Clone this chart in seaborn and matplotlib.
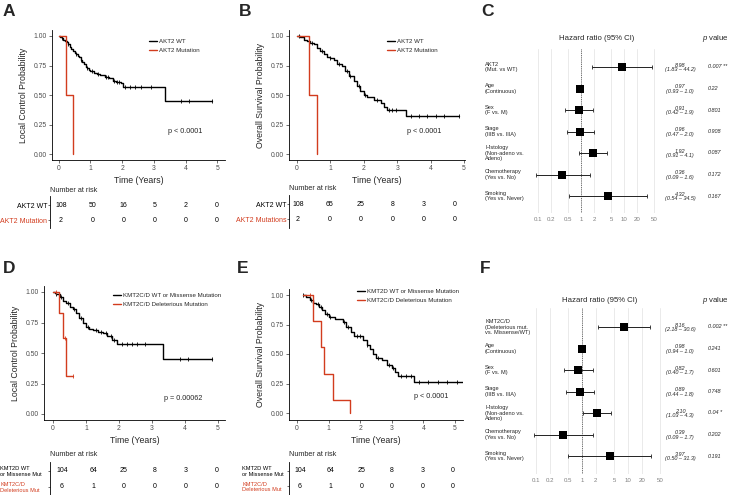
import numpy as np
import pandas as pd
import matplotlib
matplotlib.use("Agg")
import matplotlib.pyplot as plt
import matplotlib.transforms as mtransforms
from matplotlib.lines import Line2D
import seaborn as sns

sns.set_style("white")
plt.rcParams['font.family'] = ['Liberation Sans', 'DejaVu Sans']
plt.rcParams['mathtext.fontset'] = 'custom'
plt.rcParams['mathtext.rm'] = 'Liberation Sans'
plt.rcParams['mathtext.it'] = 'Liberation Sans:italic'

RED = "#D23C1E"
W, H = 731, 495

# ---------------- data ----------------
years = [0, 1, 2, 3, 4, 5]
prob_ticks = [0.0, 0.25, 0.5, 0.75, 1.0]

# A: local control, AKT2
a_wt_t = [0, 0.05, 0.1, 0.15, 0.2, 0.25, 0.3, 0.35, 0.4, 0.45, 0.5, 0.55, 0.6, 0.65, 0.7, 0.75,
          0.8, 0.85, 0.9, 0.95, 1.0, 1.1, 1.2, 1.3, 1.45, 1.6, 1.7, 1.8, 1.95, 2.02, 3.35]
a_wt_s = [1.0, 0.99, 0.98, 0.97, 0.96, 0.95, 0.93, 0.91, 0.89, 0.87, 0.86, 0.85, 0.83, 0.82, 0.80, 0.78,
          0.76, 0.74, 0.73, 0.71, 0.70, 0.69, 0.68, 0.67, 0.65, 0.64, 0.62, 0.61, 0.60, 0.57, 0.45]
a_wt_end = 4.85
a_wt_cens = [0.1, 0.3, 0.55, 0.7, 0.9, 1.05, 1.25, 1.5, 1.55, 1.75, 1.85, 1.9, 2.1, 2.25, 2.4,
             2.6, 2.9, 3.85, 4.1, 4.85]
a_mut_t = [0, 0.23, 0.45]
a_mut_s = [1.0, 0.5, 0.0]
a_mut_end = 0.45
a_mut_cens = []
a_risk_wt = [108, 50, 16, 5, 2, 0]
a_risk_mut = [2, 0, 0, 0, 0, 0]

# B: overall survival, AKT2
b_wt_t = [0, 0.1, 0.2, 0.3, 0.4, 0.5, 0.6, 0.7, 0.8, 0.9, 1.0, 1.1, 1.2, 1.35, 1.45, 1.55, 1.7,
          1.8, 1.9, 2.0, 2.1, 2.3, 2.5, 2.6, 2.7, 3.25]
b_wt_s = [1.0, 0.99, 0.97, 0.96, 0.94, 0.93, 0.90, 0.87, 0.85, 0.82, 0.81, 0.80, 0.76, 0.75, 0.70,
          0.66, 0.62, 0.58, 0.53, 0.50, 0.48, 0.46, 0.43, 0.40, 0.37, 0.32]
b_wt_end = 4.85
b_wt_cens = [0.05, 0.35, 0.45, 0.75, 1.0, 1.25, 1.5, 1.6, 1.85, 2.05, 2.4, 2.75, 2.85, 2.95,
             3.4, 3.65, 3.9, 4.15, 4.4, 4.85]
b_mut_t = [0, 0.37, 0.61]
b_mut_s = [1.0, 0.5, 0.0]
b_mut_end = 0.61
b_mut_cens = []
b_risk_wt = [108, 65, 25, 8, 3, 0]
b_risk_mut = [2, 0, 0, 0, 0, 0]

# D: local control, KMT2C/D
d_wt_t = [0, 0.05, 0.1, 0.2, 0.3, 0.4, 0.5, 0.6, 0.7, 0.8, 0.9, 1.0, 1.1, 1.2, 1.35, 1.5, 1.65,
          1.8, 1.95, 3.33]
d_wt_s = [1.0, 0.99, 0.98, 0.96, 0.93, 0.91, 0.88, 0.86, 0.83, 0.79, 0.75, 0.71, 0.70, 0.69, 0.67,
          0.66, 0.64, 0.61, 0.57, 0.45]
d_wt_end = 4.83
d_wt_cens = [0.1, 0.25, 0.45, 0.65, 0.85, 1.05, 1.3, 1.45, 1.6, 1.75, 1.85, 2.1, 2.25, 2.4,
             2.55, 2.8, 3.85, 4.1, 4.83]
d_mut_t = [0, 0.18, 0.31, 0.38]
d_mut_s = [1.0, 0.83, 0.62, 0.31]
d_mut_end = 0.6
d_mut_cens = [0.08, 0.35, 0.6]
d_risk_wt = [104, 64, 25, 8, 3, 0]
d_risk_mut = [6, 1, 0, 0, 0, 0]

# E: overall survival, KMT2C/D
e_wt_t = [0.18, 0.3, 0.4, 0.5, 0.6, 0.7, 0.8, 0.9, 1.0, 1.2, 1.45, 1.55, 1.7, 1.8, 2.1, 2.2,
          2.3, 2.4, 2.5, 2.7, 2.85, 3.0, 3.1, 3.2, 3.7]
e_wt_s = [1.0, 0.98, 0.96, 0.93, 0.92, 0.90, 0.87, 0.84, 0.81, 0.80, 0.77, 0.73, 0.69, 0.65,
          0.62, 0.58, 0.54, 0.50, 0.47, 0.45, 0.41, 0.38, 0.35, 0.31, 0.26]
e_wt_end = 5.25
e_wt_cens = [0.2, 0.45, 0.65, 0.75, 0.95, 1.05, 1.5, 1.6, 1.9, 2.0, 2.2, 2.55, 2.9, 3.05,
             3.3, 3.45, 3.6, 3.85, 4.15, 4.45, 4.75, 5.05]
e_mut_t = [0.18, 0.5, 0.76, 0.84, 1.13, 1.68]
e_mut_s = [1.0, 0.78, 0.56, 0.33, 0.11, 0.0]
e_mut_end = 1.68
e_mut_cens = [0.42]
e_risk_wt = [104, 64, 25, 8, 3, 0]
e_risk_mut = [6, 1, 0, 0, 0, 0]

# C / F: multivariable Cox models
c_labels = ["AKT2\n(Mut. vs WT)", "Age\n(Continuous)", "Sex\n(F vs. M)", "Stage\n(IIIB vs. IIIA)",
            "Histology\n(Non-adeno vs.\nAdeno)", "Chemotherapy\n(Yes vs. No)", "Smoking\n(Yes vs. Never)"]
c_hr = [8.98, 0.97, 0.91, 0.96, 1.92, 0.36, 4.32]
c_lo = [1.83, 0.93, 0.42, 0.47, 0.91, 0.09, 0.54]
c_hi = [44.2, 1.0, 1.9, 2.0, 4.1, 1.6, 34.5]
c_p = ["0.007 **", "0.22", "0.801", "0.908", "0.087", "0.172", "0.167"]

f_labels = ["KMT2C/D\n(Deleterious mut.\nvs. Missense/WT)", "Age\n(Continuous)", "Sex\n(F vs. M)",
            "Stage\n(IIIB vs. IIIA)", "Histology\n(Non-adeno vs.\nAdeno)", "Chemotherapy\n(Yes vs. No)",
            "Smoking\n(Yes vs. Never)"]
f_hr = [8.16, 0.98, 0.82, 0.89, 2.10, 0.39, 3.97]
f_lo = [2.18, 0.94, 0.40, 0.44, 1.03, 0.09, 0.50]
f_hi = [30.6, 1.0, 1.7, 1.8, 4.3, 1.7, 31.3]
f_p = ["0.002 **", "0.241", "0.601", "0.748", "0.04 *", "0.202", "0.191"]

hr_ticks = [0.1, 0.2, 0.5, 1, 2, 5, 10, 20, 50]
hr_tick_labels = ["0.1", "0.2", "0.5", "1", "2", "5", "10", "20", "50"]

# ---------------- figure ----------------
fig = plt.figure(figsize=(W / 100, H / 100), dpi=100)


def add_px(x0, y0, x1, y1):
    return fig.add_axes([x0 / W, 1 - y1 / H, (x1 - x0) / W, (y1 - y0) / H])


def ftext(x, y, s, **kw):
    fig.text(x / W, 1 - y / H, s, **kw)


def km_panel(box, zero_px, unit_px, y0_px, yunit_px, curves, ylabel, ptxt, p_px, leg_px):
    x0, y0, x1, y1 = box
    ax = add_px(*box)
    for t, s, end, cens, col, lab in curves:
        df = pd.DataFrame({"time": list(t) + [end], "surv": list(s) + [s[-1]]})
        sns.lineplot(data=df, x="time", y="surv", drawstyle="steps-post", color=col,
                     lw=1.0, ax=ax, estimator=None, sort=False, legend=False)
        if len(cens):
            idx = np.searchsorted(t, cens, side="right") - 1
            ax.plot(cens, np.asarray(s)[idx], ls="none", marker="|", ms=3.2, mew=0.6, color=col)
    ax.set_xlim((x0 - zero_px) / unit_px, (x1 - zero_px) / unit_px)
    ax.set_ylim((y0_px - y1) / yunit_px, (y0_px - y0) / yunit_px)
    ax.set_xticks(years)
    ax.set_xticklabels([str(v) for v in years])
    ax.set_yticks(prob_ticks)
    ax.set_yticklabels([f"{v:.2f}" for v in prob_ticks])
    for sp in ["top", "right"]:
        ax.spines[sp].set_visible(False)
    for sp in ["left", "bottom"]:
        ax.spines[sp].set_color("black")
        ax.spines[sp].set_linewidth(0.6)
    ax.tick_params(axis="both", length=2, width=0.5, color="#333333", labelsize=4.9,
                   labelcolor="#4D4D4D", pad=1.5, left=True, bottom=True)
    ax.set_xlabel("Time (Years)", fontsize=6.3, labelpad=3)
    ax.set_ylabel(ylabel, fontsize=6.3, labelpad=4.5)
    handles = [Line2D([], [], color=c[4], lw=1.0) for c in curves]
    lx = (leg_px[0] - x0) / (x1 - x0)
    ly = (y1 - leg_px[1]) / (y1 - y0)
    ax.legend(handles, [c[5] for c in curves], loc="upper left", bbox_to_anchor=(lx, ly),
              frameon=False, fontsize=4.4, handlelength=1.3, handletextpad=0.4,
              labelspacing=0.55, borderpad=0, borderaxespad=0)
    ax.text((p_px[0] - x0) / (x1 - x0), (y1 - p_px[1]) / (y1 - y0), ptxt,
            transform=ax.transAxes, ha="center", va="center", fontsize=5.2)
    return ax


def risk_panel(box, zero_px, unit_px, row_px, labels, wt, mut, left_labels=False, label_x=None):
    x0, y0, x1, y1 = box
    ax = add_px(*box)
    gap = row_px[1] - row_px[0]
    ax.set_xlim((x0 - zero_px) / unit_px, (x1 - zero_px) / unit_px)
    ax.set_ylim((y1 - row_px[0]) / gap, (y0 - row_px[0]) / gap)
    for r, vals in enumerate([wt, mut]):
        for yr, v in zip(years, vals):
            ax.text(yr, r, str(v), ha="center", va="center", fontsize=5.0, color="black")
    ax.set_xticks([])
    ax.set_yticks([0, 1])
    fs = 4.1 if left_labels else 5.0
    ax.set_yticklabels(labels, fontsize=fs)
    for sp in ["top", "right", "bottom"]:
        ax.spines[sp].set_visible(False)
    ax.spines["left"].set_color("black")
    ax.spines["left"].set_linewidth(0.6)
    if left_labels:
        pad = (x0 - label_x) / 1.389 - 1.5
    else:
        pad = 0.5
    ax.tick_params(axis="y", length=1.5, width=0.5, color="#333333", pad=pad, left=True)
    tl = ax.get_yticklabels()
    tl[1].set_color(RED)
    tl[0].set_color("black")
    if left_labels:
        for t in tl:
            t.set_ha("left")
            t.set_linespacing(1.15)
    return ax


def forest_panel(box, one_px, dec_px, row0_px, gap_px, labels, hr, lo, hi, pv,
                 header_y, label_x, hr_x, p_x):
    x0, y0, x1, y1 = box
    ax = add_px(*box)
    rows = np.arange(len(hr))
    ax.set_xscale("log")
    ax.set_xlim(10 ** ((x0 - one_px) / dec_px), 10 ** ((x1 - one_px) / dec_px))
    ax.set_ylim((y1 - row0_px) / gap_px, (y0 - row0_px) / gap_px)
    ax.set_xticks(hr_ticks)
    ax.set_xticklabels(hr_tick_labels)
    ax.xaxis.set_minor_locator(matplotlib.ticker.NullLocator())
    ax.set_yticks([])
    ax.grid(axis="x", color="#E6E6E6", lw=0.6)
    ax.set_axisbelow(True)
    for sp in ax.spines.values():
        sp.set_visible(False)
    ax.tick_params(axis="x", length=0, labelsize=4.4, labelcolor="#808080", pad=3)
    ax.axvline(1, ls=(0, (1, 1.2)), color="#444444", lw=0.6, zorder=1)
    ax.hlines(rows, lo, hi, color="#222222", lw=0.7, zorder=2)
    ax.plot(lo, rows, ls="none", marker="|", ms=3, mew=0.6, color="#222222", zorder=2)
    ax.plot(hi, rows, ls="none", marker="|", ms=3, mew=0.6, color="#222222", zorder=2)
    sns.scatterplot(x=hr, y=rows, marker="s", s=26, color="black", edgecolor="black",
                    linewidth=0, ax=ax, zorder=3, legend=False)
    ax.set_xlabel("")
    ax.set_ylabel("")
    tr = mtransforms.blended_transform_factory(fig.transFigure, ax.transData)
    for r in rows:
        ax.text(label_x / W, r, labels[r], transform=tr, ha="left", va="center",
                fontsize=4.1, linespacing=1.2)
        ax.text(hr_x / W, r - 0.09, f"{hr[r]:.2f}", transform=tr, ha="center", va="center",
                fontsize=4.0, style="italic")
        ax.text(hr_x / W, r + 0.12, f"({lo[r]:.2f} \u2013 {hi[r]:.1f})", transform=tr,
                ha="center", va="center", fontsize=4.0, style="italic")
        ax.text(p_x / W, r, pv[r], transform=tr, ha="left", va="center",
                fontsize=4.0, style="italic")
    ftext((x0 + x1) / 2 + 2, header_y, "Hazard ratio (95% CI)", ha="center", va="center",
          fontsize=5.6)
    ftext(715, header_y, "$\\it{p}$ value", ha="center", va="center", fontsize=5.6)
    return ax


# A
km_panel((52, 30, 225, 160), 58.7, 31.7, 154, 118,
         [(a_wt_t, a_wt_s, a_wt_end, a_wt_cens, "black", "AKT2 WT"),
          (a_mut_t, a_mut_s, a_mut_end, a_mut_cens, RED, "AKT2 Mutation")],
         "Local Control Probability", "p < 0.0001", (185, 131), (149, 39))
ftext(50, 190, "Number at risk", ha="left", va="center", fontsize=5.2)
risk_panel((50, 196, 225, 228), 61, 31.2, (205, 220), ["AKT2 WT", "AKT2 Mutation"],
           a_risk_wt, a_risk_mut)

# B
km_panel((289, 30, 465, 160), 297, 33.4, 154, 118,
         [(b_wt_t, b_wt_s, b_wt_end, b_wt_cens, "black", "AKT2 WT"),
          (b_mut_t, b_mut_s, b_mut_end, b_mut_cens, RED, "AKT2 Mutation")],
         "Overall Survival Probability", "p < 0.0001", (424, 131), (387, 39))
ftext(289, 189, "Number at risk", ha="left", va="center", fontsize=5.2)
risk_panel((289, 195, 465, 228), 298, 31.4, (204, 219), ["AKT2 WT", "AKT2 Mutations"],
           b_risk_wt, b_risk_mut)

# D
km_panel((44, 286, 225, 420), 53, 33, 414, 122,
         [(d_wt_t, d_wt_s, d_wt_end, d_wt_cens, "black", "KMT2C/D WT or Missense Mutation"),
          (d_mut_t, d_mut_s, d_mut_end, d_mut_cens, RED, "KMT2C/D Deleterious Mutation")],
         "Local Control Probability", "p = 0.00062", (183, 398), (113, 293))
ftext(50, 454, "Number at risk", ha="left", va="center", fontsize=5.2)
risk_panel((50, 462, 225, 495), 62, 31, (471, 487),
           ["KMT2D WT\nor Missense Mut", "KMT2C/D\nDeleterious Mut"],
           d_risk_wt, d_risk_mut, left_labels=True, label_x=0)

# E
km_panel((289, 289, 463, 420), 297, 31.6, 413, 118,
         [(e_wt_t, e_wt_s, e_wt_end, e_wt_cens, "black", "KMT2D WT or Missense Mutation"),
          (e_mut_t, e_mut_s, e_mut_end, e_mut_cens, RED, "KMT2C/D Deleterious Mutation")],
         "Overall Survival Probability", "p < 0.0001", (431, 397), (357, 289))
ftext(289, 454, "Number at risk", ha="left", va="center", fontsize=5.2)
risk_panel((289, 462, 465, 495), 300, 30.6, (471, 486),
           ["KMT2D WT\nor Missense Mut", "KMT2C/D\nDeleterious Mut"],
           e_risk_wt, e_risk_mut, left_labels=True, label_x=242)

# C and F
forest_panel((528, 49, 662, 213), 581, 43, 67, 21.5, c_labels, c_hr, c_lo, c_hi, c_p,
             39, 485, 680, 708)
forest_panel((528, 308, 668, 474), 582, 46, 327, 21.5, f_labels, f_hr, f_lo, f_hi, f_p,
             300, 485, 680, 708)

# panel letters
for lab, x, y in [("A", 3, 4), ("B", 239, 4), ("C", 481, 4), ("D", 3, 261), ("E", 237, 261), ("F", 480, 261)]:
    ftext(x, y, lab, ha="left", va="top", fontsize=12.5, fontweight="bold")

fig.savefig("out.png", dpi=100)
